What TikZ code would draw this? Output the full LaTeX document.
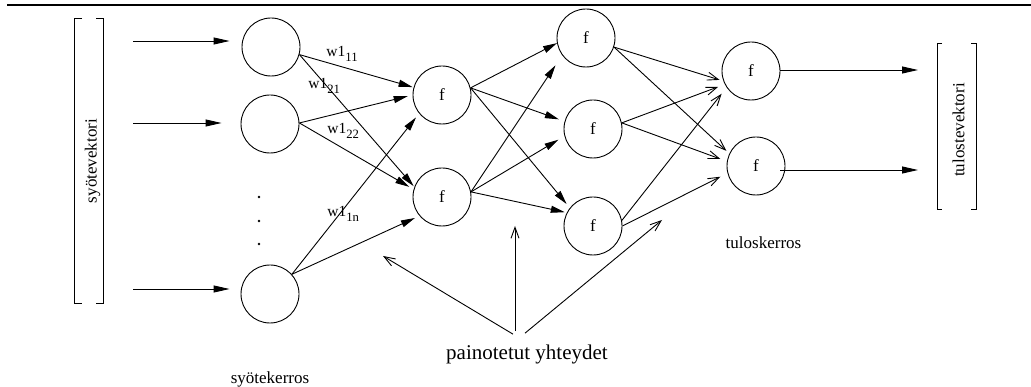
\documentclass[tikz,border=0pt]{standalone}
\usepackage{fontspec}
\setmainfont{Liberation Serif}
\usetikzlibrary{arrows.meta}
\newcommand{\wlab}[1]{w1\raisebox{-5pt}{\fontsize{12.7}{15}\selectfont #1}}

\begin{document}
\begin{tikzpicture}[
  x=1pt, y=-1pt, line width=0.9pt,
  neuron/.style={draw, circle, minimum size=58pt, inner sep=0pt, font=\fontsize{17}{20}\selectfont},
  lbl/.style={font=\fontsize{17}{20}\selectfont},
  wlbl/.style={anchor=base west, inner sep=0pt, font=\fontsize{15.5}{18}\selectfont},
  arr/.style={-{Triangle[length=14pt,width=7pt]}},
  inarr/.style={-{Triangle[length=16pt,width=7pt]}},
  barb/.style={-{Straight Barb[length=11pt,width=8pt]}}
]
\useasboundingbox (0,0) rectangle (1031,387);
\draw[line width=2pt] (7,5) -- (1031,5);

% layers
\node[neuron] (i1) at (271,47) {};
\node[neuron] (i2) at (270,124) {};
\node[neuron] (i3) at (270,294) {};
\node[neuron] (f1) at (442,95) {f};
\node[neuron] (f2) at (442,197) {f};
\node[neuron] (h1) at (586,38) {f};
\node[neuron] (h2) at (593,129) {f};
\node[neuron] (h3) at (593,226) {f};
\node[neuron] (o1) at (751,71) {f};
\node[neuron] (o2) at (756,166) {f};
\foreach \y in {197,221,244} \fill (259,\y) circle (1.3pt);

% vectors
\draw (82,18) -- (74,18) -- (74,303) -- (82,303);
\draw (96,18) -- (103,18) -- (103,303) -- (96,303);
\draw (942,43) -- (937,43) -- (937,209) -- (942,209);
\draw (971,43) -- (976,43) -- (976,209) -- (971,209);
\node[lbl, rotate=90] (invec) at (92.5,161) {syötevektori};
\node[lbl, rotate=90] (outvec) at (958.5,130) {tulostevektori};
\node[lbl] (inlayer) at (270,379) {syötekerros};
\node[lbl] (outlayer) at (763.5,242.5) {tuloskerros};

\coordinate (x1) at (133,41); \coordinate (x2) at (133,123); \coordinate (x3) at (133,289);
\coordinate (y1) at (918,70); \coordinate (y2) at (918,170);
\draw[inarr, shorten >=12pt] (x1) -- (x1 -| i1.west);
\draw[inarr, shorten >=19pt] (x2) -- (x2 -| i2.west);
\draw[inarr, shorten >=11pt] (x3) -- (x3 -| i3.west);
\draw[inarr] (o1.east |- y1) -- (y1);
\draw[inarr, shorten <=-5pt] (o2.east |- y2) -- (y2);

% weights
\draw[arr, shorten >=1pt] (i1.-15) -- (f1.165); \draw[arr, shorten >=1pt] (i1.-15) -- (f2.160);
\draw[arr, shorten >=5pt] (i2.2) -- (f1.180); \draw[arr, shorten >=5pt] (i2.2) -- (f2.165);
\draw[arr, shorten >=5pt] (i3.42) -- (f1.219); \draw[arr, shorten >=5pt] (i3.42) -- (f2.220);
\draw[arr] (f1.14) -- (h1.190); \draw[arr, shorten >=6pt] (f1.14) -- (h2.165);
\draw[arr, shorten >=5pt] (f1.14) -- (h3.142);
\draw[arr, shorten >=12pt] (f2.10) -- (h1.216); \draw[arr, shorten >=7pt] (f2.10) -- (h2.194);
\draw[arr, shorten >=2pt] (f2.10) -- (h3.153);
\draw[barb, shorten >=4pt] (h1.-18) -- (o1.200); \draw[barb, shorten >=4pt] (h1.-18) -- (o2.155);
\draw[barb, shorten >=7pt] (h2.12) -- (o1.207); \draw[barb, shorten >=7pt] (h2.12) -- (o2.171);
\draw[barb, shorten >=8pt] (h3.11) -- (o1.214); \draw[barb, shorten >=8pt] (h3.0) -- (o2.194);

\node[wlbl] (w11) at (326,57) {\wlab{11}};
\node[wlbl] (w21) at (308,89) {\wlab{21}};
\node[wlbl] (w22) at (327,134) {\wlab{22}};
\node[wlbl] (w1n) at (327,217) {\wlab{1n}};

\node[font=\fontsize{21}{25}\selectfont] (wts) at (527,354.5) {painotetut yhteydet};
\coordinate (t1) at (383,256); \coordinate (t2) at (515,226); \coordinate (t3) at (662,220);
\draw[barb] ([shift={(-14,-7)}]wts.north) -- (t1);
\draw[barb] ([shift={(-12,-10)}]wts.north) -- (t2);
\draw[barb] ([shift={(-2,-8)}]wts.north) -- (t3);
\end{tikzpicture}
\end{document}
